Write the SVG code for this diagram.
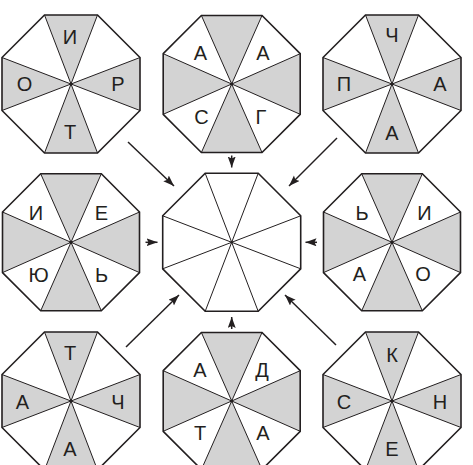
<svg xmlns="http://www.w3.org/2000/svg" xmlns:xlink="http://www.w3.org/1999/xlink" width="473" height="465" viewBox="0 0 473 465">
<style>
.shade{fill:#d3d3d3;stroke:none}
.spoke{fill:none;stroke:#231f20;stroke-width:1}
.outline{fill:none;stroke:#231f20;stroke-width:1.6;stroke-linejoin:miter}
.dot{fill:#231f20}
.lbl{font-family:"Liberation Sans",Arial,sans-serif;font-size:20px;fill:#231f20;text-anchor:middle}
.arrow{fill:none;stroke:#231f20;stroke-width:1.5;marker-end:url(#ah)}
</style>
<defs>
<marker id="ah" markerUnits="userSpaceOnUse" markerWidth="12" markerHeight="9" refX="11" refY="4" orient="auto">
<path d="M0,0 L11,4 L0,8 L2,4 Z" fill="#231f20"/>
</marker>
<g id="octA">
<path class="shade" d="M0,0 L-26.5,-69 L26.5,-69Z M0,0 L69,-26.5 L69,26.5Z M0,0 L26.5,69 L-26.5,69Z M0,0 L-69,26.5 L-69,-26.5Z"/>
<path class="spoke" d="M-26.5,-69 L26.5,69 M26.5,-69 L-26.5,69 M69,-26.5 L-69,26.5 M69,26.5 L-69,-26.5"/>
<polygon class="outline" points="-26.5,-69 26.5,-69 69,-26.5 69,26.5 26.5,69 -26.5,69 -69,26.5 -69,-26.5"/>
<circle class="dot" r="1.6"/>
</g>
<g id="octB">
<path class="shade" d="M0,0 L-30.3,-68.5 L30.3,-68.5Z M0,0 L68.5,-30.3 L68.5,30.3Z M0,0 L30.3,68.5 L-30.3,68.5Z M0,0 L-68.5,30.3 L-68.5,-30.3Z"/>
<path class="spoke" d="M-30.3,-68.5 L30.3,68.5 M30.3,-68.5 L-30.3,68.5 M68.5,-30.3 L-68.5,30.3 M68.5,30.3 L-68.5,-30.3"/>
<polygon class="outline" points="-30.3,-68.5 30.3,-68.5 68.5,-30.3 68.5,30.3 30.3,68.5 -30.3,68.5 -68.5,30.3 -68.5,-30.3"/>
<circle class="dot" r="1.6"/>
</g>
<g id="octC">
<path class="spoke" d="M-26.5,-69 L26.5,69 M26.5,-69 L-26.5,69 M69,-26.5 L-69,26.5 M69,26.5 L-69,-26.5"/>
<polygon class="outline" points="-26.5,-69 26.5,-69 69,-26.5 69,26.5 26.5,69 -26.5,69 -69,26.5 -69,-26.5"/>
<circle class="dot" r="1.2"/>
</g>
</defs>
<rect width="473" height="465" fill="#fff"/>

<g id="n1">
<use xlink:href="#octA" href="#octA" transform="translate(71,84)"/>
<text class="lbl" x="70" y="44">И</text>
<text class="lbl" x="24.5" y="91">О</text>
<text class="lbl" x="118" y="91">Р</text>
<text class="lbl" x="70" y="139">Т</text>
</g>
<g id="n2">
<use xlink:href="#octB" href="#octB" transform="translate(231.7,84)"/>
<text class="lbl" x="200.5" y="60">А</text>
<text class="lbl" x="263" y="60">А</text>
<text class="lbl" x="201.5" y="124">С</text>
<text class="lbl" x="261" y="124">Г</text>
</g>
<g id="n3">
<use xlink:href="#octA" href="#octA" transform="translate(392,84)"/>
<text class="lbl" x="392" y="42">Ч</text>
<text class="lbl" x="344" y="91">П</text>
<text class="lbl" x="440" y="91">А</text>
<text class="lbl" x="392" y="139.5">А</text>
</g>
<g id="n4">
<use xlink:href="#octB" href="#octB" transform="translate(71,242.3)"/>
<text class="lbl" x="36" y="220">И</text>
<text class="lbl" x="101.5" y="220">Е</text>
<text class="lbl" x="38.5" y="282">Ю</text>
<text class="lbl" x="101.5" y="282">Ь</text>
</g>
<g id="n5">
<use xlink:href="#octC" href="#octC" transform="translate(231.7,242.3)"/>
</g>
<g id="n6">
<use xlink:href="#octB" href="#octB" transform="translate(392,242.3)"/>
<text class="lbl" x="362" y="220">Ь</text>
<text class="lbl" x="424.5" y="220">И</text>
<text class="lbl" x="359.5" y="280.5">А</text>
<text class="lbl" x="423" y="280.5">О</text>
</g>
<g id="n7">
<use xlink:href="#octA" href="#octA" transform="translate(71,401)"/>
<text class="lbl" x="70" y="360">Т</text>
<text class="lbl" x="22.5" y="408.5">А</text>
<text class="lbl" x="118" y="408.5">Ч</text>
<text class="lbl" x="70" y="456">А</text>
</g>
<g id="n8">
<use xlink:href="#octB" href="#octB" transform="translate(231.7,401)"/>
<text class="lbl" x="200" y="377">А</text>
<text class="lbl" x="262" y="377">Д</text>
<text class="lbl" x="200" y="440">Т</text>
<text class="lbl" x="263" y="440">А</text>
</g>
<g id="n9">
<use xlink:href="#octA" href="#octA" transform="translate(392,401)"/>
<text class="lbl" x="392" y="362">К</text>
<text class="lbl" x="344" y="408.5">С</text>
<text class="lbl" x="440" y="408.5">Н</text>
<text class="lbl" x="392" y="456">Е</text>
</g>

<g id="connectors">
<line class="arrow" x1="128" y1="142" x2="174" y2="186"/>
<line class="arrow" x1="231.7" y1="155.5" x2="231.7" y2="167.5"/>
<line class="arrow" x1="337" y1="138" x2="289" y2="186"/>
<line class="arrow" x1="145.5" y1="242.3" x2="157.5" y2="242.3"/>
<line class="arrow" x1="317" y1="242.3" x2="305.5" y2="242.3"/>
<line class="arrow" x1="126" y1="347" x2="179" y2="295"/>
<line class="arrow" x1="231.7" y1="329" x2="231.7" y2="317"/>
<line class="arrow" x1="336" y1="345" x2="285" y2="295"/>
</g>
</svg>
